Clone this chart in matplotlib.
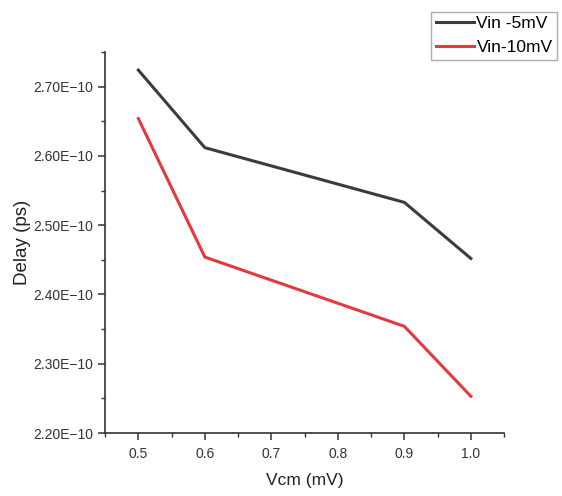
import matplotlib
matplotlib.use("Agg")
import matplotlib.pyplot as plt
from matplotlib.ticker import MultipleLocator, FuncFormatter

plt.rcParams['font.family'] = ['Liberation Sans', 'DejaVu Sans']

vcm = [0.5, 0.6, 0.9, 1.0]
delay_5mv = [2.724e-10, 2.612e-10, 2.533e-10, 2.452e-10]
delay_10mv = [2.654e-10, 2.454e-10, 2.354e-10, 2.253e-10]
labels = ["Vin -5mV", "Vin-10mV"]

fig = plt.figure(figsize=(5.62, 4.96), dpi=100)
ax = fig.add_axes([0.187, 0.127, 0.710, 0.768])

l1, = ax.plot(vcm, delay_5mv, color='#3c3c3c', lw=2.2, label=labels[0])
l2, = ax.plot(vcm, delay_10mv, color='#e23a3e', lw=2.2, label=labels[1])

ax.set_xlim(0.45, 1.05)
ax.set_ylim(2.20e-10, 2.75e-10)
ax.xaxis.set_major_locator(MultipleLocator(0.1))
ax.xaxis.set_minor_locator(MultipleLocator(0.05))
ax.yaxis.set_major_locator(MultipleLocator(0.1e-10))
ax.yaxis.set_minor_locator(MultipleLocator(0.05e-10))
ax.xaxis.set_major_formatter(FuncFormatter(lambda v, p: f"{v:.1f}"))
ax.yaxis.set_major_formatter(FuncFormatter(lambda v, p: f"{v*1e10:.2f}E\u221210"))

for s in ['top', 'right']:
    ax.spines[s].set_visible(False)
for s in ['left', 'bottom']:
    ax.spines[s].set_color('#333333')
    ax.spines[s].set_linewidth(1.2)

ax.tick_params(which='both', direction='out', color='#333333', labelcolor='#333333', labelsize=10)
ax.tick_params(which='major', length=5, width=1.1)
ax.tick_params(which='minor', length=3, width=1.0)
ax.tick_params(axis='x', pad=5)

ax.set_xlabel("Vcm (mV)", fontsize=12.5, color='#222222', labelpad=9)
ax.set_ylabel("Delay (ps)", fontsize=13.5, color='#222222', labelpad=2)

fig.legend(handles=[l1, l2], labels=labels, loc='upper right',
           bbox_to_anchor=(0.991, 0.976), frameon=True, fancybox=False,
           edgecolor='#999999', fontsize=12.5, handlelength=2.2,
           handletextpad=0.15, borderpad=0.25, labelspacing=0.5, borderaxespad=0)

fig.savefig("out.png", dpi=100)
